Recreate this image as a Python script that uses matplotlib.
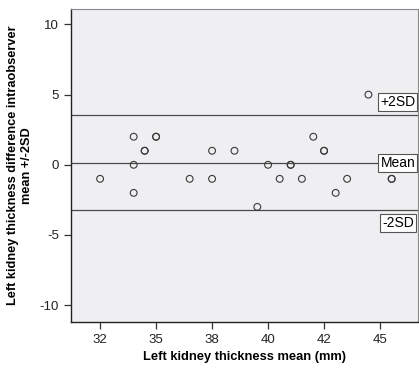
import numpy as np
import matplotlib.pyplot as plt
from matplotlib.transforms import blended_transform_factory

# tick positions on the x axis are evenly spaced; labels as printed
x_ticks = [32.0, 34.6, 37.2, 39.8, 42.4, 45.0]
x_ticklabels = ["32", "35", "38", "40", "42", "45"]
y_ticks = [-10, -5, 0, 5, 10]

# mean of the two measurements (mm) and their difference
mean_mm = [32.0, 33.56, 33.56, 33.56, 34.07, 34.07, 34.6, 34.6, 36.16,
           37.2, 37.2, 38.24, 39.3, 39.8, 40.34, 40.85, 40.85, 41.37,
           41.9, 42.4, 42.4, 42.94, 43.47, 44.46, 45.54, 45.54]
diff_mm = [-1, 2, 0, -2, 1, 1, 2, 2, -1,
           1, -1, 1, -3, 0, -1, 0, 0, -1,
           2, 1, 1, -2, -1, 5, -1, -1]

mean_line = 0.14
upper_sd = 3.55
lower_sd = -3.24

plt.rcParams['font.family'] = ['Liberation Sans', 'DejaVu Sans']
plt.rcParams['axes.unicode_minus'] = False

fig = plt.figure(figsize=(4.19, 3.68), dpi=100)
ax = fig.add_axes([0.1695, 0.125, 0.828, 0.8505])
ax.set_facecolor('#efeff1')

ax.scatter(mean_mm, diff_mm, s=24, facecolors='none', edgecolors='#3a3a3a',
           linewidths=0.8, zorder=3)

for yv in [upper_sd, mean_line, lower_sd]:
    ax.axhline(yv, color='#4a4a4a', lw=0.9, zorder=2)

tr = blended_transform_factory(ax.transAxes, ax.transData)
box = dict(boxstyle='square,pad=0.15', fc='white', ec='#555555', lw=0.8)
ax.text(0.992, upper_sd + 0.45, "+2SD", transform=tr, ha='right', va='bottom',
        fontsize=10, bbox=box, zorder=4)
ax.text(0.992, mean_line, "Mean", transform=tr, ha='right', va='center',
        fontsize=10, bbox=box, zorder=4)
ax.text(0.988, lower_sd - 0.4, "-2SD", transform=tr, ha='right', va='top',
        fontsize=10, bbox=box, zorder=4)

ax.set_xlim(30.65, 46.76)
ax.set_ylim(-11.2, 11.1)
ax.set_xticks(x_ticks)
ax.set_xticklabels(x_ticklabels)
ax.set_yticks(y_ticks)
ax.tick_params(direction='out', length=5, width=0.9, color='#333333',
               labelsize=9.5, labelcolor='#222222')

for s in ['left', 'bottom']:
    ax.spines[s].set_color('#222222')
    ax.spines[s].set_linewidth(1.0)
for s in ['top', 'right']:
    ax.spines[s].set_color('#888888')
    ax.spines[s].set_linewidth(0.8)

ax.set_xlabel("Left kidney thickness mean (mm)", fontsize=9.3, fontweight='bold',
              labelpad=4)
ax.set_ylabel("Left kidney thickness difference intraobserver\nmean +/-2SD",
              fontsize=9.2, fontweight='bold', labelpad=5)

fig.savefig("out.png", dpi=100)
